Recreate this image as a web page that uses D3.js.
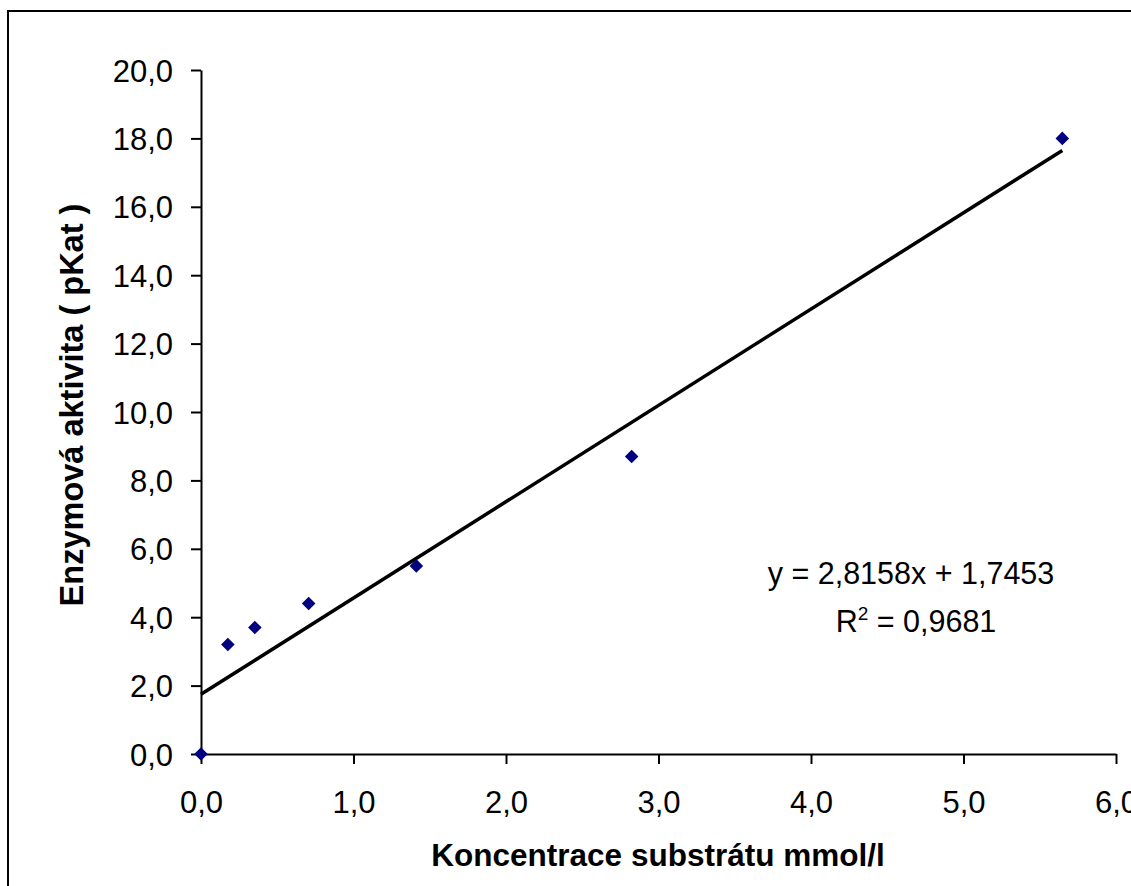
<!DOCTYPE html>
<html>
<head>
<meta charset="utf-8">
<script src="https://cdn.jsdelivr.net/npm/d3@7"></script>
<style>
  html, body { margin: 0; padding: 0; background: #fff; }
  svg { display: block; }
  text { font-family: "Liberation Sans", Arial, sans-serif; fill: #000; }
</style>
</head>
<body>
<svg id="chart" width="1131" height="886"></svg>
<script>
// ---- data ----
const concentration = [0, 0.176, 0.353, 0.706, 1.412, 2.824, 5.648];
const activity = [0.0, 3.2, 3.7, 4.4, 5.5, 8.7, 18.0];
const xTicks = [0, 1, 2, 3, 4, 5, 6];
const yTicks = [0, 2, 4, 6, 8, 10, 12, 14, 16, 18, 20];
const trendSlope = 2.8158;
const trendIntercept = 1.7453;
const equationText = "y = 2,8158x + 1,7453";
const r2Text = "= 0,9681";
const xTitle = "Koncentrace substrátu mmol/l";
const yTitle = "Enzymová aktivita ( pKat )";

// ---- layout ----
const svg = d3.select("#chart");
const plotLeft = 201, plotRight = 1116, plotTop = 70, plotBottom = 754;

const x = d3.scaleLinear().domain([0, 6]).range([plotLeft, plotRight]);
const y = d3.scaleLinear().domain([0, 20]).range([plotBottom, plotTop]);

const locale = d3.formatLocale({decimal: ",", thousands: " ", grouping: [3], currency: ["", ""]});
const fmt = locale.format(".1f");

// outer frame (cut off at right/bottom)
svg.append("rect")
  .attr("x", 8).attr("y", 11)
  .attr("width", 1140).attr("height", 900)
  .attr("fill", "none").attr("stroke", "#000").attr("stroke-width", 2);

// axes
const xAxis = d3.axisBottom(x).tickValues(xTicks).tickFormat(fmt).tickSize(10).tickSizeOuter(0).tickPadding(27);
const yAxis = d3.axisLeft(y).tickValues(yTicks).tickFormat(fmt).tickSize(10).tickSizeOuter(0).tickPadding(18);

const gx = svg.append("g").attr("transform", `translate(0,${plotBottom})`).call(xAxis);
const gy = svg.append("g").attr("transform", `translate(${plotLeft},0)`).call(yAxis);

[gx, gy].forEach(g => {
  g.select(".domain").attr("stroke", "#000").attr("stroke-width", 2);
  g.selectAll(".tick line").attr("stroke", "#000").attr("stroke-width", 2);
  g.selectAll(".tick text").attr("font-family", "Liberation Sans, Arial, sans-serif")
    .attr("font-size", 31).attr("fill", "#000");
});
gx.selectAll(".tick text").attr("dy", "0.71em");
gy.selectAll(".tick text").attr("dy", "0.36em");

// trendline
const xMax = d3.max(concentration);
const trend = [0, xMax].map(v => [v, trendSlope * v + trendIntercept]);
svg.append("path")
  .datum(trend)
  .attr("d", d3.line().x(d => x(d[0])).y(d => y(d[1])))
  .attr("stroke", "#000").attr("stroke-width", 3.5).attr("fill", "none");

// markers (rotated squares)
const diamond = d3.symbol().type(d3.symbolSquare).size(92)();
svg.append("g").selectAll("path")
  .data(concentration.map((c, i) => [c, activity[i]]))
  .join("path")
  .attr("d", diamond)
  .attr("transform", d => `translate(${x(d[0])},${y(d[1])}) rotate(45)`)
  .attr("fill", "#000080");

// equation
svg.append("text")
  .attr("x", 911).attr("y", 584)
  .attr("text-anchor", "middle")
  .attr("font-size", 30.5)
  .text(equationText);
const r2 = svg.append("text")
  .attr("x", 916).attr("y", 632)
  .attr("text-anchor", "middle")
  .attr("font-size", 30.5);
r2.append("tspan").text("R");
r2.append("tspan").attr("font-size", 19).attr("dy", -12).text("2");
r2.append("tspan").attr("dy", 12).text(" " + r2Text);

// axis titles
svg.append("text")
  .attr("x", 658).attr("y", 866)
  .attr("text-anchor", "middle")
  .attr("font-size", 31.5).attr("font-weight", "bold")
  .text(xTitle);

svg.append("text")
  .attr("transform", `translate(83,405) rotate(-90)`)
  .attr("text-anchor", "middle")
  .attr("font-size", 32.5).attr("font-weight", "bold")
  .text(yTitle);
</script>
</body>
</html>
